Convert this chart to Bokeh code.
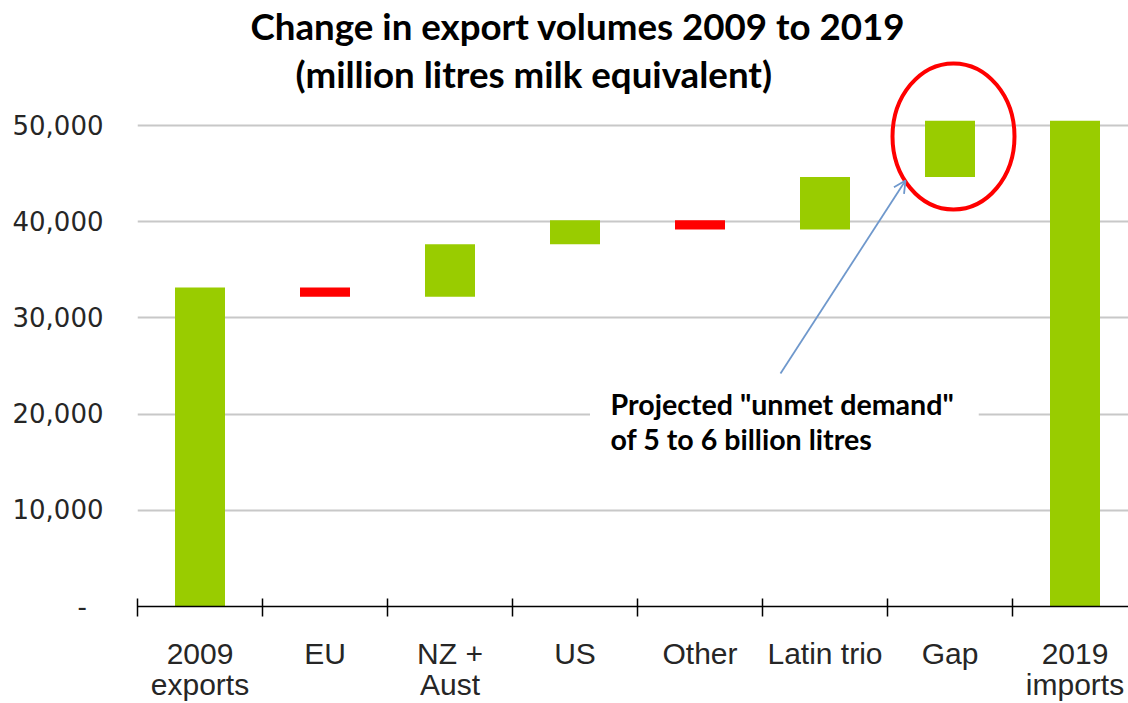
from bokeh.plotting import figure
from bokeh.models import Range1d, FixedTicker, Arrow, OpenHead, ColumnDataSource
from bokeh.core.properties import value
from bokeh.embed import file_html
from bokeh.resources import INLINE

# ---------------- data ----------------
categories = ["2009\nexports", "EU", "NZ +\nAust", "US", "Other", "Latin trio", "Gap", "2019\nimports"]
start_total = 33150
# changes for EU, NZ + Aust, US, Other, Latin trio, Gap
changes = [-950, 5450, 2500, -950, 5450, 5850]
y_ticks = [0, 10000, 20000, 30000, 40000, 50000]
y_tick_labels = ["-\u00a0\u00a0", "10,000", "20,000", "30,000", "40,000", "50,000"]
title_lines = ["Change  in export volumes 2009 to 2019", "(million litres milk equivalent)"]
note_lines = ['Projected "unmet demand"', "of 5 to 6 billion litres"]

GREEN = "#99cc00"
RED = "#ff0000"

# ---------------- waterfall computation ----------------
xs = [i + 0.5 for i in range(len(categories))]
bottoms = [0]
tops = [start_total]
colors = [GREEN]
level = start_total
for c in changes:
    new = level + c
    bottoms.append(min(level, new))
    tops.append(max(level, new))
    colors.append(GREEN if c > 0 else RED)
    level = new
bottoms.append(0)
tops.append(level)
colors.append(GREEN)

src = ColumnDataSource(dict(x=xs, bottom=bottoms, top=tops, color=colors))

# ---------------- figure ----------------
p = figure(width=1128, height=703,
           x_range=Range1d(0, 7.928), y_range=Range1d(0, 62994),
           output_backend="svg", toolbar_location=None,
           min_border_left=137, min_border_right=0, min_border_top=0, min_border_bottom=97)
p.outline_line_color = None
p.background_fill_color = "white"
p.border_fill_color = "white"

# grid
p.xgrid.grid_line_color = None
p.ygrid.ticker = FixedTicker(ticks=y_ticks[1:])
p.ygrid.grid_line_color = "#c8c8c8"
p.ygrid.grid_line_width = 2

# y axis
p.yaxis.ticker = FixedTicker(ticks=y_ticks)
p.yaxis.major_label_overrides = {t: l for t, l in zip(y_ticks, y_tick_labels)}
p.yaxis.axis_line_color = None
p.yaxis.major_tick_line_color = None
p.yaxis.minor_tick_line_color = None
p.yaxis.major_tick_in = 0
p.yaxis.major_tick_out = 0
p.yaxis.major_label_standoff = 34
p.yaxis.major_label_text_font = "DejaVu Sans"
p.yaxis.major_label_text_font_size = "26px"
p.yaxis.major_label_text_color = "#262626"

# x axis
p.xaxis.ticker = FixedTicker(ticks=xs, minor_ticks=list(range(0, len(categories) + 1)))
p.xaxis.major_label_overrides = {x: c for x, c in zip(xs, categories)}
p.xaxis.major_tick_line_color = None
p.xaxis.major_tick_in = 0
p.xaxis.major_tick_out = 0
p.xaxis.minor_tick_line_color = "black"
p.xaxis.minor_tick_line_width = 1.5
p.xaxis.minor_tick_in = 8
p.xaxis.minor_tick_out = 10
p.xaxis.axis_line_color = "black"
p.xaxis.axis_line_width = 1.5
p.xaxis.major_label_standoff = 20
p.xaxis.major_label_text_font = "Liberation Sans"
p.xaxis.major_label_text_font_size = "30px"
p.xaxis.major_label_text_line_height = 0.95
p.xaxis.major_label_text_color = "#262626"

# bars
p.vbar(x="x", bottom="bottom", top="top", width=0.4, fill_color="color",
       line_color=None, source=src)

# white box behind the note
p.quad(left=[3.62], right=[6.73], bottom=[15700], top=[22970],
       fill_color="white", line_color=None)

# note text
p.text(x=[3.784, 3.784], y=[21100, 17460], text=note_lines,
       text_font=value("Lato"), text_font_style="bold", text_font_size="28.6px",
       text_baseline="middle", text_align="left", text_color="black")

# title
p.text(x=[0.904, 1.264], y=[60395, 55405], text=title_lines,
       text_font=value("Lato"), text_font_style="bold", text_font_size="36.7px",
       text_baseline="middle", text_align="left", text_color="black")

# red ellipse around the gap bar
gap_i = 6
p.ellipse(x=[xs[gap_i] + 0.028], y=[(bottoms[gap_i] + tops[gap_i]) / 2 + 1285],
          width=0.976, height=15180, fill_color=None, line_color=RED, line_width=4)

# arrow
p.add_layout(Arrow(end=OpenHead(size=12, line_color="#6f98cc", line_width=1.8),
                   x_start=5.144, y_start=24220, x_end=6.144, y_end=44280,
                   line_color="#6f98cc", line_width=1.8))

open("out.html", "w").write(file_html(p, INLINE))
